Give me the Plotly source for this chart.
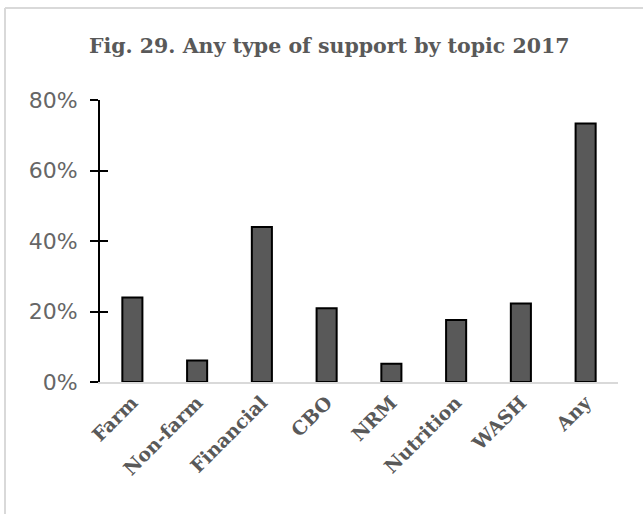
import plotly.graph_objects as go

# Share of respondents receiving any type of support, by topic (2017)
topics = ["Farm", "Non-farm", "Financial", "CBO", "NRM", "Nutrition", "WASH", "Any"]
share_pct = [24.0, 6.1, 44.0, 20.9, 5.2, 17.6, 22.3, 73.3]
y_ticks = [0, 20, 40, 60, 80]
y_tick_labels = ["0%", "20%", "40%", "60%", "80%"]

W, H = 643, 514
M_L, M_R, M_T, M_B = 100, 25, 100, 132

GREY_TEXT = "#595959"
BORDER = "#d9d9d9"


def px_to_paper_x(px):
    return (px - M_L) / (W - M_L - M_R)


def px_to_paper_y(py):
    return (H - M_B - py) / (H - M_T - M_B)


fig = go.Figure()
fig.add_trace(go.Bar(
    x=topics,
    y=share_pct,
    width=0.31,
    marker=dict(color="#595959", line=dict(color="#000000", width=2)),
    hoverinfo="x+y",
))
# invisible trace so the secondary (inner tick) axis is drawn
fig.add_trace(go.Scatter(x=[topics[0]], y=[0], yaxis="y2", mode="markers",
                         marker=dict(opacity=0), showlegend=False, hoverinfo="skip"))

fig.update_layout(
    width=W, height=H,
    margin=dict(l=M_L, r=M_R, t=M_T, b=M_B),
    paper_bgcolor="white", plot_bgcolor="white",
    showlegend=False,
    title=dict(
        text="<b>Fig. 29. Any type of support by topic 2017</b>",
        x=0.512, xanchor="center", y=1 - 46 / H, yanchor="middle",
        font=dict(family="DejaVu Serif", size=20.5, color=GREY_TEXT),
    ),
    xaxis=dict(
        type="category",
        showline=True, linecolor=BORDER, linewidth=2,
        ticks="", showgrid=False,
        tickangle=-45,
        tickfont=dict(family="DejaVu Serif", size=19, color=GREY_TEXT, weight="bold"),
    ),
    yaxis=dict(
        range=[0, 80],
        tickvals=y_ticks, ticktext=y_tick_labels,
        showline=True, linecolor="#000000", linewidth=2,
        ticks="outside", ticklen=8, tickwidth=2, tickcolor="#000000",
        showgrid=False, zeroline=False,
        tickfont=dict(family="DejaVu Sans", size=22, color="#666666"),
        ticklabelstandoff=8,
    ),
    yaxis2=dict(
        overlaying="y", anchor="x", side="left",
        range=[0, 80], tickvals=y_ticks,
        showticklabels=False, showline=False, showgrid=False, zeroline=False,
        ticks="inside", ticklen=8, tickwidth=2, tickcolor="#000000",
    ),
    shapes=[
        # chart frame: top and left edges
        dict(type="line", xref="paper", yref="paper",
             x0=px_to_paper_x(5), x1=px_to_paper_x(W + 5),
             y0=px_to_paper_y(8), y1=px_to_paper_y(8),
             line=dict(color=BORDER, width=2)),
        dict(type="line", xref="paper", yref="paper",
             x0=px_to_paper_x(5), x1=px_to_paper_x(5),
             y0=px_to_paper_y(8), y1=px_to_paper_y(H + 5),
             line=dict(color=BORDER, width=2)),
    ],
)

fig.write_html("out.html")
